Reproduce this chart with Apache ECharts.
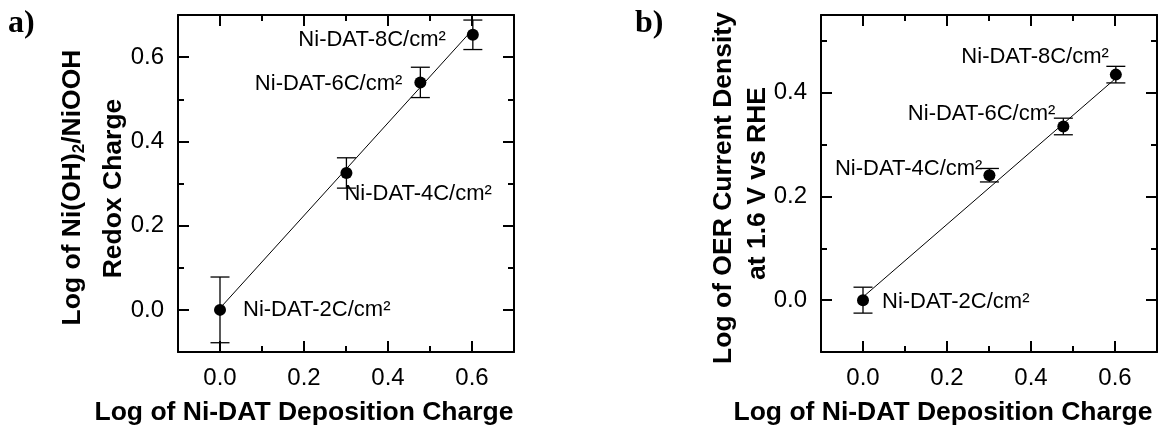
<!DOCTYPE html>
<html>
<head>
<meta charset="utf-8">
<script src="https://cdn.jsdelivr.net/npm/echarts@6/dist/echarts.min.js"></script>
<style>
  html, body { margin: 0; padding: 0; background: #fff; }
  #chart { width: 1160px; height: 430px; }
</style>
</head>
<body>
<div id="chart"></div>
<script>
// Log of the Ni-DAT deposition charge (2, 4, 6 and 8 C/cm²)
const logCharge = [0.0, 0.301, 0.477, 0.602];
const sampleNames = ['Ni-DAT-2C/cm²', 'Ni-DAT-4C/cm²', 'Ni-DAT-6C/cm²', 'Ni-DAT-8C/cm²'];

// a) log of the Ni(OH)2/NiOOH redox charge, with error bars and linear fit
const redoxLog = [0.0, 0.325, 0.540, 0.653];
const redoxErr = [0.078, 0.036, 0.036, 0.035];
const redoxFit = [[0.0, 0.004], [0.602, 0.666]];

// b) log of the OER current density at 1.6 V vs RHE, with error bars and linear fit
const oerLog = [0.0, 0.241, 0.335, 0.435];
const oerErr = [0.025, 0.013, 0.016, 0.016];
const oerFit = [[0.0, 0.006], [0.602, 0.428]];

// axis ranges and tick values
const xRange = [-0.1, 0.7];
const yRangeA = [-0.1, 0.7];
const yRangeB = [-0.1, 0.55];
const xMajorTicks = [0.0, 0.2, 0.4, 0.6];
const xMinorTicks = [0.1, 0.3, 0.5];
const yMajorTicksA = [0.0, 0.2, 0.4, 0.6];
const yMinorTicksA = [0.1, 0.3, 0.5];
const yMajorTicksB = [0.0, 0.2, 0.4];
const yMinorTicksB = [0.1, 0.3, 0.5];

// where each point's label sits relative to its marker
const labelPosA = [
  { position: 'right', offset: [17, 0] },
  { position: 'right', offset: [-8, 21] },
  { position: 'left', offset: [-12, 2] },
  { position: 'left', offset: [-21, 5] }
];
const labelPosB = [
  { position: 'right', offset: [13, 2] },
  { position: 'left', offset: [-1, -6] },
  { position: 'left', offset: [-2, -13] },
  { position: 'left', offset: [-1, -18] }
];

const FONT = '"Liberation Sans", Arial, Helvetica, sans-serif';
const SERIF = '"Liberation Serif", "Times New Roman", serif';

// Frame axes: one labelled side plus its mirror, each with long (major) and short (minor) inward ticks
function frameAxes(dim, grid, range, major, minor) {
  const sides = dim === 'x' ? ['bottom', 'top'] : ['left', 'right'];
  const out = [];
  sides.forEach((side, i) => {
    out.push({
      type: 'value', gridIndex: grid, position: side,
      min: range[0], max: range[1],
      splitLine: { show: false },
      axisLine: { show: true, onZero: false, lineStyle: { color: '#000', width: 2 } },
      axisTick: { show: true, inside: true, length: 11, customValues: major,
                  lineStyle: { color: '#000', width: 2 } },
      axisLabel: { show: i === 0, customValues: major, margin: 14,
                   formatter: v => v.toFixed(1),
                   color: '#000', fontSize: 24, fontFamily: FONT }
    });
    out.push({
      type: 'value', gridIndex: grid, position: side,
      min: range[0], max: range[1],
      splitLine: { show: false },
      axisLine: { show: false, onZero: false },
      axisTick: { show: true, inside: true, length: 6, customValues: minor,
                  lineStyle: { color: '#000', width: 2 } },
      axisLabel: { show: false }
    });
  });
  return out;
}

function errorBars(params, api) {
  const lo = api.coord([api.value(0), api.value(1)]);
  const hi = api.coord([api.value(0), api.value(2)]);
  const cap = 9.5;
  const style = { stroke: '#000', lineWidth: 1.3 };
  return {
    type: 'group',
    children: [
      { type: 'line', shape: { x1: lo[0], y1: lo[1], x2: hi[0], y2: hi[1] }, style },
      { type: 'line', shape: { x1: lo[0] - cap, y1: lo[1], x2: lo[0] + cap, y2: lo[1] }, style },
      { type: 'line', shape: { x1: hi[0] - cap, y1: hi[1], x2: hi[0] + cap, y2: hi[1] }, style }
    ]
  };
}

function panelSeries(axisIdx, yVals, yErr, fit, labelPos) {
  return [
    {
      type: 'line', xAxisIndex: axisIdx, yAxisIndex: axisIdx,
      data: fit, symbol: 'none', silent: true, z: 2,
      lineStyle: { color: '#000', width: 1 }
    },
    {
      type: 'custom', xAxisIndex: axisIdx, yAxisIndex: axisIdx, z: 3,
      renderItem: errorBars,
      data: logCharge.map((x, i) => [x, yVals[i] - yErr[i], yVals[i] + yErr[i]])
    },
    {
      type: 'scatter', xAxisIndex: axisIdx, yAxisIndex: axisIdx, z: 4,
      symbol: 'circle', symbolSize: 12,
      itemStyle: { color: '#000', opacity: 1 },
      label: { show: true, formatter: '{b}', distance: 0, color: '#000',
               fontSize: 22, fontFamily: FONT },
      data: logCharge.map((x, i) => ({
        name: sampleNames[i],
        value: [x, yVals[i]],
        label: labelPos[i]
      }))
    }
  ];
}

const titleRich = {
  t: { fontSize: 26.5, fontWeight: 'bold', fontFamily: FONT, lineHeight: 30 },
  s: { fontSize: 17, fontWeight: 'bold', fontFamily: FONT, lineHeight: 17, verticalAlign: 'bottom' }
};

function titleText(x, y, text, rotated) {
  return {
    type: 'text', x, y, rotation: rotated ? Math.PI / 2 : 0,
    style: { text, rich: titleRich, fill: '#000', align: 'center', verticalAlign: 'middle' }
  };
}

const chart = echarts.init(document.getElementById('chart'), null, { renderer: 'canvas' });
chart.setOption({
  backgroundColor: '#fff',
  animation: false,
  grid: [
    { left: 178, top: 15, width: 336, height: 337 },
    { left: 821, top: 15, width: 336, height: 337 }
  ],
  xAxis: [
    ...frameAxes('x', 0, xRange, xMajorTicks, xMinorTicks),
    ...frameAxes('x', 1, xRange, xMajorTicks, xMinorTicks)
  ],
  yAxis: [
    ...frameAxes('y', 0, yRangeA, yMajorTicksA, yMinorTicksA),
    ...frameAxes('y', 1, yRangeB, yMajorTicksB, yMinorTicksB)
  ],
  series: [
    ...panelSeries(0, redoxLog, redoxErr, redoxFit, labelPosA),
    ...panelSeries(4, oerLog, oerErr, oerFit, labelPosB)
  ],
  graphic: [
    { type: 'text', x: 8, y: 8,
      style: { text: 'a)', font: 'bold 32px ' + SERIF, fill: '#000' } },
    { type: 'text', x: 635, y: 8,
      style: { text: 'b)', font: 'bold 32px ' + SERIF, fill: '#000' } },
    titleText(73, 187.5, '{t|Log of Ni(OH)}{s|2}{t|/NiOOH}', true),
    titleText(113.5, 188.5, '{t|Redox Charge}', true),
    titleText(724, 188, '{t|Log of OER Current Density}', true),
    titleText(757.5, 183.5, '{t|at 1.6 V vs RHE}', true),
    titleText(304, 413, '{t|Log of Ni-DAT Deposition Charge}', false),
    titleText(943, 413, '{t|Log of Ni-DAT Deposition Charge}', false)
  ]
});
</script>
</body>
</html>
